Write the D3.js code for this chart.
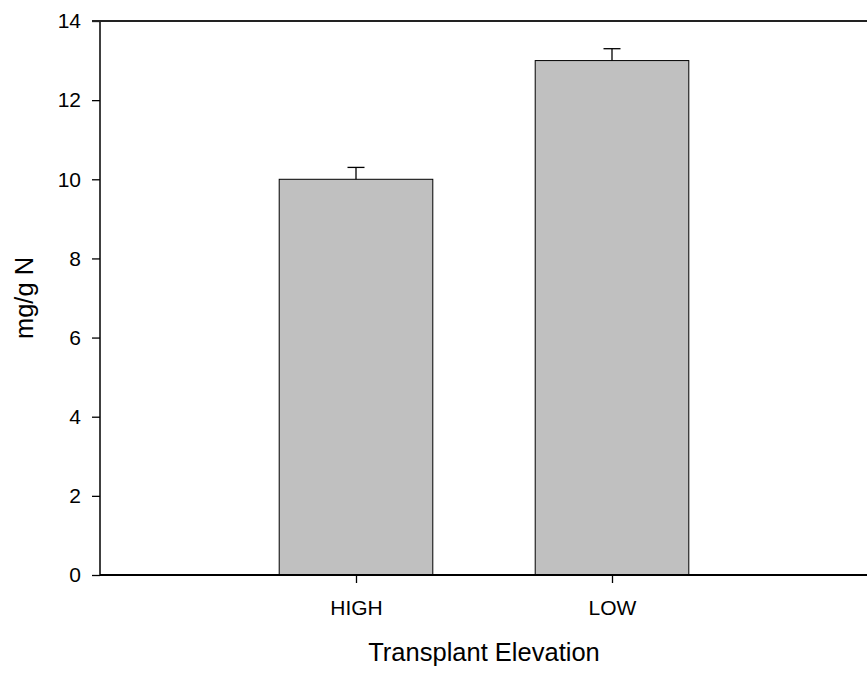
<!DOCTYPE html>
<html>
<head>
<meta charset="utf-8">
<script src="https://cdn.jsdelivr.net/npm/d3@7"></script>
<style>
  body { margin: 0; background: #fff; }
  svg { display: block; font-family: Arial, "Liberation Sans", sans-serif; }
</style>
</head>
<body>
<svg id="chart" width="867" height="677"></svg>
<script>
const categories = ['HIGH', 'LOW'];
const values = [10.0, 13.0];
const errors = [0.3, 0.3];
const yTicks = [0, 2, 4, 6, 8, 10, 12, 14];

const M = { top: 21, left: 100, bottom: 575, right: 868 };
const BAR_W = 0.6;   // in category units
const CAP = 8.5;

const svg = d3.select('#chart');

const x = d3.scaleLinear().domain([0, categories.length + 1]).range([M.left, M.right]);
const y = d3.scaleLinear().domain([0, 14]).range([M.bottom, M.top]);

// Bars
svg.selectAll('.bar')
  .data(values)
  .join('rect')
  .attr('class', 'bar')
  .attr('x', (_, i) => x(i + 1 - BAR_W / 2))
  .attr('width', x(BAR_W) - x(0))
  .attr('y', d => y(d))
  .attr('height', d => y(0) - y(d))
  .attr('fill', '#c0c0c0')
  .attr('stroke', '#000').attr('stroke-width', 1);

// Error bars (upper only)
const err = svg.selectAll('.err')
  .data(values)
  .join('g')
  .attr('class', 'err')
  .attr('stroke', '#000').attr('stroke-width', 1.3);
err.append('line')
  .attr('x1', (_, i) => x(i + 1)).attr('x2', (_, i) => x(i + 1))
  .attr('y1', d => y(d)).attr('y2', (d, i) => y(d + errors[i]));
err.append('line')
  .attr('x1', (_, i) => x(i + 1) - CAP).attr('x2', (_, i) => x(i + 1) + CAP)
  .attr('y1', (d, i) => y(d + errors[i])).attr('y2', (d, i) => y(d + errors[i]));

// Y axis
const yAxis = svg.append('g')
  .attr('transform', `translate(${M.left},0)`)
  .call(d3.axisLeft(y).tickValues(yTicks).tickSize(8).tickPadding(11).tickFormat(d3.format('d')));
yAxis.select('.domain').attr('d', `M0,${M.top}V${M.bottom}`).attr('stroke-width', 1.5);
yAxis.selectAll('.tick line').attr('stroke-width', 1.3);
yAxis.selectAll('text').attr('font-size', 21).attr('fill', '#000').attr('font-family', 'inherit');

// X axis
const xAxis = svg.append('g')
  .attr('transform', `translate(0,${M.bottom})`)
  .call(d3.axisBottom(x).tickValues(categories.map((_, i) => i + 1)).tickSize(8).tickPadding(17)
    .tickFormat((_, i) => categories[i]));
xAxis.select('.domain').attr('d', `M${M.left},0H${M.right}`).attr('stroke-width', 2);
xAxis.selectAll('.tick line').attr('stroke-width', 1.3);
xAxis.selectAll('text').attr('font-size', 21).attr('fill', '#000').attr('font-family', 'inherit');

// Top frame line
svg.append('line')
  .attr('x1', M.left - 8).attr('x2', M.right)
  .attr('y1', y(14)).attr('y2', y(14))
  .attr('stroke', '#222').attr('stroke-width', 2);

// Titles
svg.append('text')
  .attr('x', 484).attr('y', 661)
  .attr('text-anchor', 'middle')
  .attr('font-size', 25.5)
  .text('Transplant Elevation');

svg.append('text')
  .attr('transform', `translate(33,${(M.top + M.bottom) / 2}) rotate(-90)`)
  .attr('text-anchor', 'middle')
  .attr('font-size', 25.5)
  .text('mg/g N');
</script>
</body>
</html>
